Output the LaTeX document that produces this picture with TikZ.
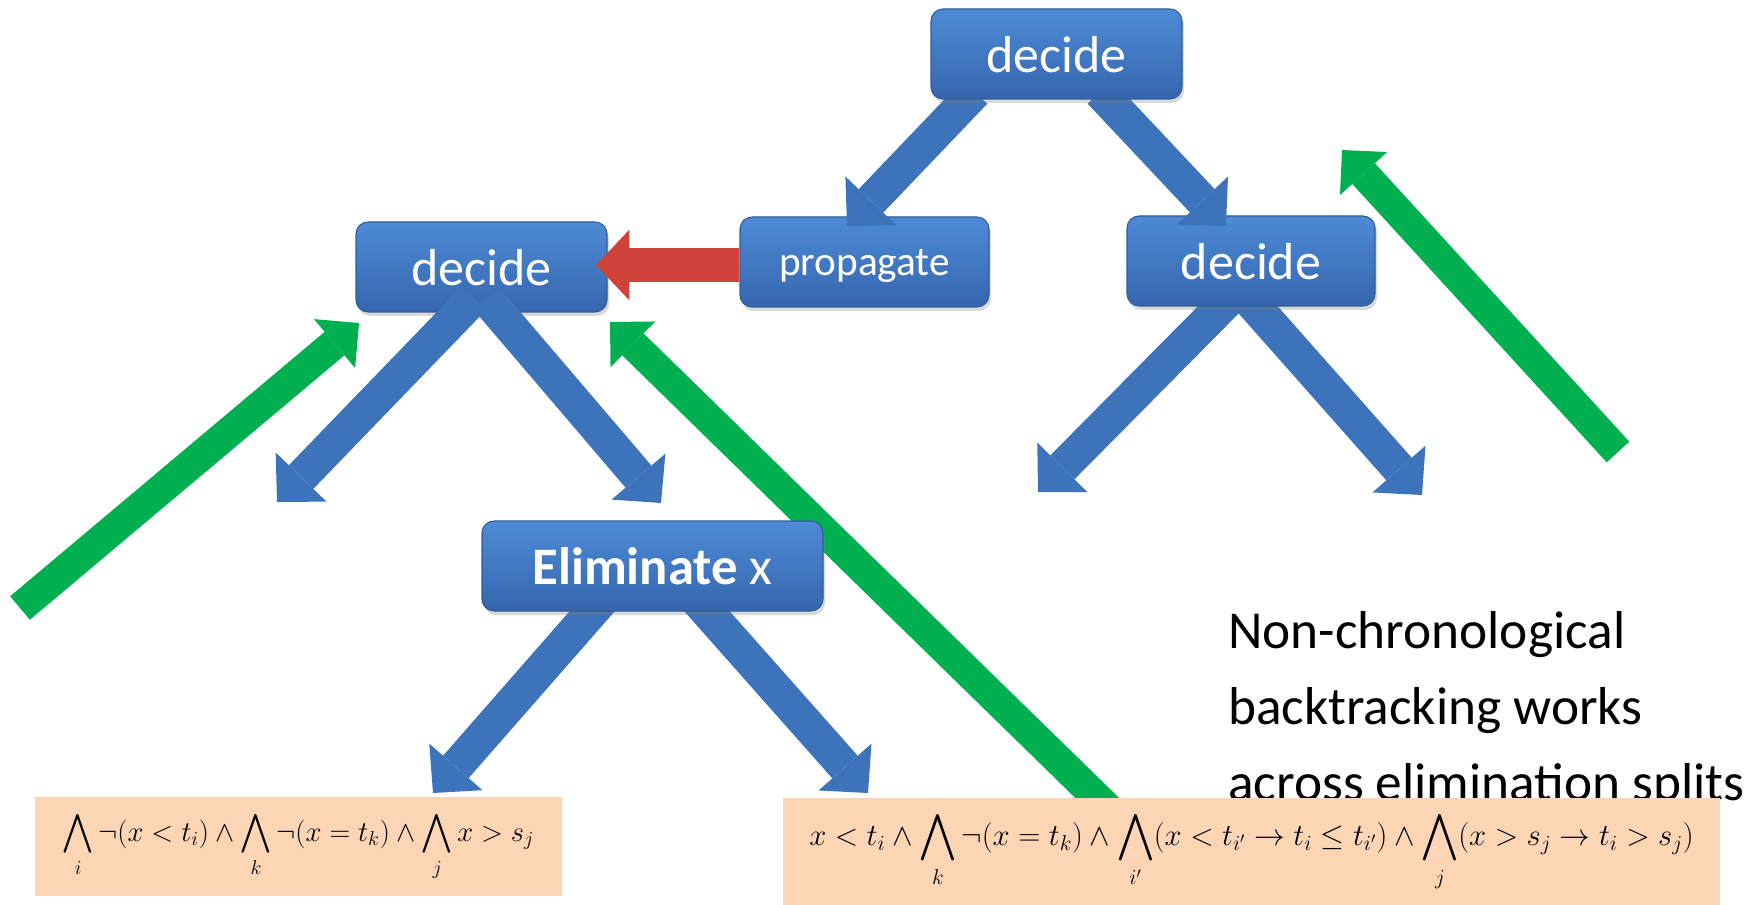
\RequirePackage{fix-cm}
\documentclass[tikz,border=0pt]{standalone}
\usepackage{amsmath}
\usepackage{fontspec}
\setmainfont{Carlito}
\usetikzlibrary{arrows.meta,shadows,calc}
\definecolor{boxtop}{HTML}{4E8AD6}
\definecolor{boxbot}{HTML}{3566AE}
\definecolor{boxedge}{HTML}{2E5C9A}
\definecolor{arrowblue}{HTML}{3C73BA}
\definecolor{arrowgreen}{HTML}{00B050}
\definecolor{arrowred}{HTML}{D0413A}
\definecolor{formulafill}{HTML}{FCD5B5}
\pgfdeclarelayer{bg}
\pgfdeclarelayer{fg}
\pgfdeclarelayer{topl}
\pgfsetlayers{bg,main,fg,topl}
\begin{document}
\begin{tikzpicture}[x=0.75pt,y=-0.75pt,
  bluebox/.style={rounded corners=9pt, top color=boxtop, bottom color=boxbot,
    draw=boxedge, line width=0.8pt, text=white, minimum height=67.5pt,
    inner sep=0pt, text depth=0pt,
    drop shadow={shadow xshift=1.5pt, shadow yshift=-3pt, opacity=0.3}},
  formbox/.style={fill=formulafill, draw=none, inner sep=0pt},
  bluearrow/.style={draw=arrowblue, line width=25.5pt,
    -{Triangle[length=26pt,width=53pt,line width=0pt]}},
  greenarrow/.style={draw=arrowgreen, line width=23pt,
    -{Triangle[length=24pt,width=48pt,line width=0pt]}},
  redarrow/.style={draw=arrowred, line width=25.5pt,
    -{Triangle[length=25pt,width=53pt,line width=0pt]}},
  sidetext/.style={anchor=base west, inner sep=0pt, font=\fontsize{40}{40}\selectfont}
]
\useasboundingbox (0,0) rectangle (1763,905);

% boxes (main layer)
\node[bluebox, minimum width=188.25pt, font=\fontsize{39}{39}\selectfont] (ld) at (481.5,267) {decide};
\node[bluebox, minimum width=186.75pt, font=\fontsize{31}{31}\selectfont] (pr) at (864.5,262) {propagate};
\node[bluebox, minimum width=186pt, font=\fontsize{39}{39}\selectfont] (rd) at (1251,261) {decide};
\node[bluebox, minimum width=255.75pt, font=\fontsize{39.5}{39.5}\selectfont] (el) at (652.5,566) {\textbf{Eliminate} x};

\begin{pgfonlayer}{topl}
\node[bluebox, minimum width=188.25pt, font=\fontsize{39}{39}\selectfont] (td) at (1056.5,54) {decide};
\node[formbox, minimum width=395.25pt, minimum height=74.25pt, font=\fontsize{21.5}{26}\selectfont] (f1) at (298.5,846.5)
  {$\displaystyle \bigwedge_{i}\neg(x<t_i)\wedge\bigwedge_{k}\neg(x=t_k)\wedge\bigwedge_{j}x>s_j$};
\node[formbox, minimum width=702.75pt, minimum height=80.25pt, font=\fontsize{23}{27}\selectfont] (f2) at (1251.5,851.5)
  {$\displaystyle x<t_i\wedge\bigwedge_{k}\neg(x=t_k)\wedge\bigwedge_{i'}(x<t_{i'}\rightarrow t_i\leq t_{i'})\wedge\bigwedge_{j}(x>s_j\rightarrow t_i>s_j)$};
\end{pgfonlayer}

% arrows below boxes
\begin{pgfonlayer}{bg}
\coordinate (rdLs) at (1233,295); \coordinate (rdLt) at (1038,492);
\coordinate (rdRs) at (1245,295); \coordinate (rdRt) at (1422,495);
\coordinate (elLs) at (602,600);  \coordinate (elLt) at (433,793);
\coordinate (elRs) at (697,600);  \coordinate (elRt) at (868,793);
\draw[bluearrow] (rdLs) -- (rdLt);
\draw[bluearrow] (rdRs) -- (rdRt);
\draw[bluearrow] (elLs) -- (elLt);
\draw[bluearrow] (elRs) -- (elRt);
\coordinate (g1s) at (20,608);   \coordinate (g1t) at (359,323);
\coordinate (g2s) at (1130,830); \coordinate (g2t) at (610,322);
\coordinate (g3s) at (1618,452); \coordinate (g3t) at (1342,150);
\draw[greenarrow] (g1s) -- (g1t);
\draw[greenarrow] (g2s) -- (g2t);
\draw[greenarrow] (g3s) -- (g3t);
\node[sidetext] (t1) at (1228,648) {Non-chronological};
\node[sidetext] (t2) at (1228,724) {backtracking works};
\node[sidetext] (t3) at (1228,800) {across elimination splits};
\end{pgfonlayer}

% arrows above lower boxes
\begin{pgfonlayer}{fg}
\coordinate (tdLs) at (975,92);  \coordinate (tdLt) at (847,226);
\coordinate (tdRs) at (1100,92); \coordinate (tdRt) at (1226,226);
\draw[bluearrow] (tdLs) -- (tdLt);
\draw[bluearrow] (tdRs) -- (tdRt);
\coordinate (ldLs) at (474,298); \coordinate (ldLt) at (277,502);
\coordinate (ldRs) at (486,298); \coordinate (ldRt) at (661,503);
\draw[bluearrow] (ldLs) -- (ldLt);
\draw[bluearrow] (ldRs) -- (ldRt);
\coordinate (redtip) at (596,265);
\draw[redarrow] (pr.west |- redtip) -- (redtip);
\end{pgfonlayer}
\end{tikzpicture}
\end{document}
